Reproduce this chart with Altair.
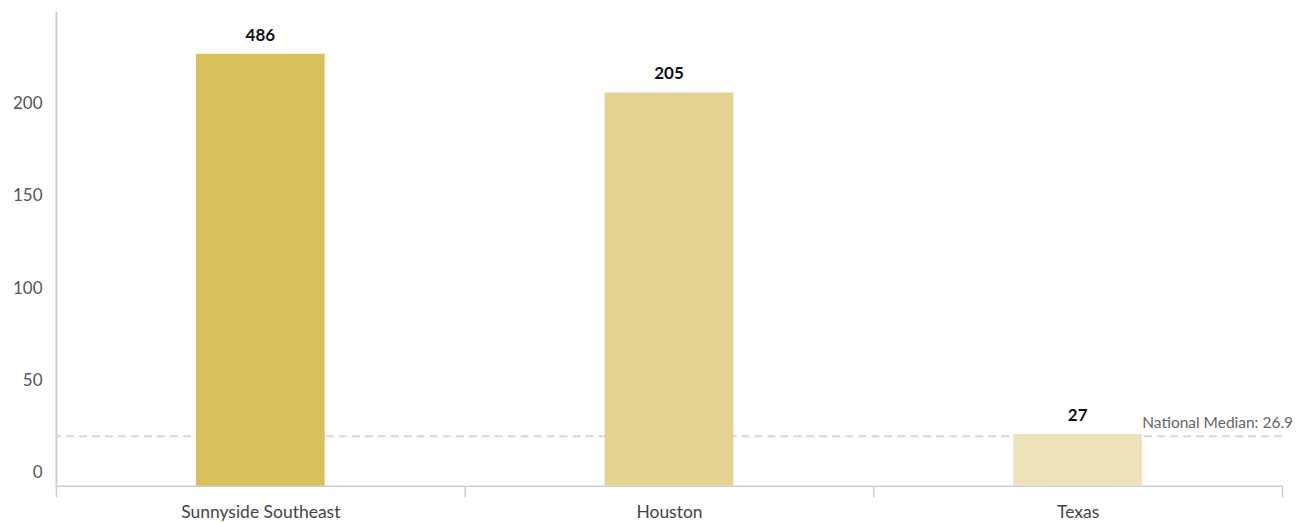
import altair as alt
import pandas as pd

categories = ["Sunnyside Southeast", "Houston", "Texas"]
label_values = [486, 205, 27]
bar_heights = [234, 213, 28]
bar_colors = ["#D8C05B", "#E3D392", "#EDE2BA"]
median_value = 26.9
median_text = "National Median: 26.9"
y_ticks = [0, 50, 100, 150, 200]

df = pd.DataFrame({
    "category": categories,
    "label": label_values,
    "height": bar_heights,
    "color": bar_colors,
})
med = pd.DataFrame({"v": [median_value], "t": [median_text]})

FONT = "Lato"
axis_col = "#C6D1D4"

x = alt.X("category:N", sort=categories, title=None,
          scale=alt.Scale(paddingInner=0, paddingOuter=0),
          axis=alt.Axis(labelAngle=0, labelFont=FONT, labelFontSize=17.5, labelColor="#444",
                        domainColor=axis_col, domainWidth=1.5, tickColor=axis_col, tickWidth=1.5,
                        tickSize=11, tickBand="extent", labelPadding=7))
y = alt.Y("height:Q", title=None,
          scale=alt.Scale(domain=[0, 257], nice=False),
          axis=alt.Axis(values=y_ticks, grid=False, ticks=False, tickSize=0, labelPadding=14,
                        labelOffset=-13, labelFont=FONT, labelFontSize=17, labelColor="#555",
                        domainColor=axis_col, domainWidth=2))

bars = alt.Chart(df).mark_bar(width=alt.RelativeBandSize(0.315)).encode(
    x=x, y=y, color=alt.Color("color:N", scale=None))

labels = alt.Chart(df).mark_text(font=FONT, fontSize=17, fontWeight="bold", color="#111",
                                 baseline="alphabetic", dy=-13).encode(
    x=alt.X("category:N", sort=categories), y="height:Q", text="label:Q")

rule = alt.Chart(med).mark_rule(color="#D6D6D6", strokeWidth=2, strokeDash=[8, 5]).encode(
    y="v:Q")

med_label = alt.Chart(med).mark_text(font=FONT, fontSize=15.5, color="#666", align="right",
                                     baseline="alphabetic", dx=11, dy=-8).encode(
    x=alt.value("width"), y="v:Q", text="t:N")

chart = alt.layer(rule, bars, labels, med_label).properties(
    width=1227, height=475,
    autosize=alt.AutoSizeParams(type="none"),
    padding={"left": 48, "top": 3, "right": 20, "bottom": 40},
).configure_view(stroke=None)

chart.save("out.html", embed_options={"renderer": "svg", "actions": False})
